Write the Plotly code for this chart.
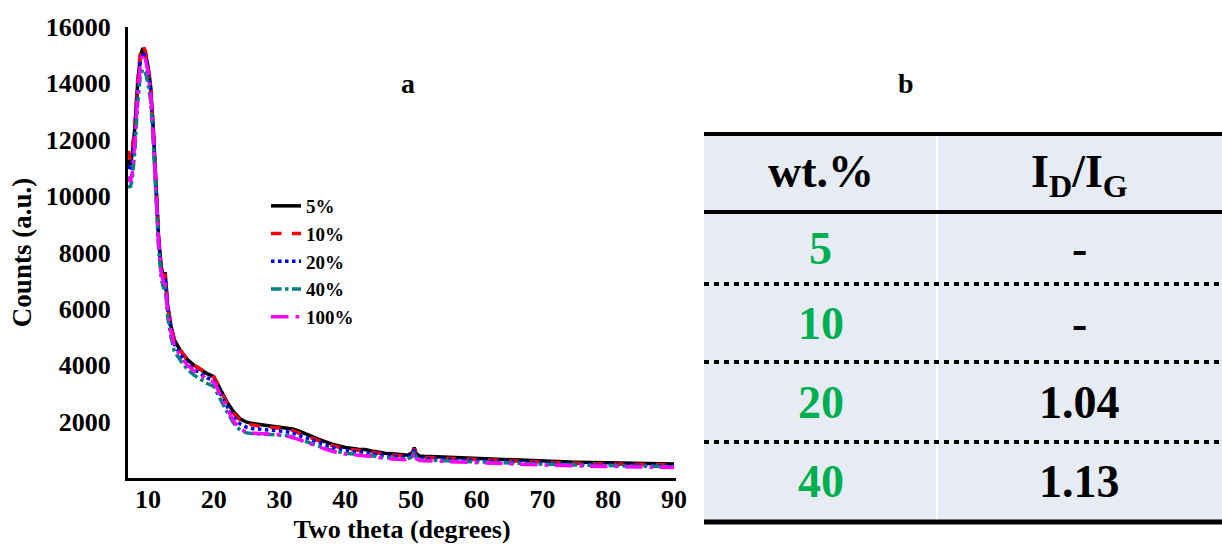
import plotly.graph_objects as go

# ---------------- data ----------------
two_theta = [7.0, 7.3, 7.6, 8.0, 8.4, 8.8, 9.2, 9.6, 10.0, 10.4,
             10.8, 11.2, 11.6, 12.0, 12.4, 12.6, 12.8, 13.0, 13.5, 14,
             15, 16, 17, 18, 19, 20, 20.5, 21, 22, 23,
             24, 25, 26, 27, 28, 29, 30, 31, 32, 33,
             34, 35, 36, 38, 40, 42, 43, 44, 46, 48,
             49.5, 50.2, 50.5, 50.8, 51.3, 52, 55, 60, 65, 70,
             75, 80, 85, 90]

counts_5 = [11300, 11100, 11500, 12400, 13900, 14900, 15250, 15100, 14600, 13900,
            12400, 10300, 8600, 7500, 7100, 7300, 6700, 6100, 5400, 4900,
            4500, 4200, 4000, 3850, 3700, 3600, 3400, 3150, 2700, 2350,
            2100, 1980, 1930, 1900, 1880, 1860, 1830, 1800, 1740, 1660,
            1560, 1460, 1370, 1200, 1080, 1020, 1010, 960, 880, 840,
            810, 900, 1080, 860, 780, 770, 740, 700, 640, 590,
            560, 540, 520, 500]

counts_10 = [11600, 11300, 11600, 12500, 14000, 15000, 15350, 15150, 14600, 13900,
             12400, 10300, 8600, 7500, 7100, 7250, 6700, 6100, 5400, 4900,
             4500, 4200, 4000, 3850, 3700, 3580, 3380, 3120, 2660, 2300,
             2050, 1920, 1870, 1840, 1820, 1800, 1770, 1740, 1680, 1600,
             1500, 1410, 1320, 1150, 1040, 980, 970, 920, 840, 800,
             770, 860, 1040, 820, 740, 730, 700, 660, 600, 550,
             520, 500, 480, 460]

counts_20 = [11100, 10900, 11200, 12200, 13700, 14700, 15100, 14950, 14450, 13750,
             12250, 10150, 8450, 7350, 6950, 7100, 6550, 5950, 5250, 4750,
             4350, 4050, 3850, 3700, 3550, 3450, 3250, 3000, 2550, 2180,
             1920, 1800, 1750, 1730, 1720, 1700, 1680, 1650, 1600, 1520,
             1430, 1340, 1250, 1090, 980, 930, 920, 870, 800, 760,
             730, 820, 1000, 780, 700, 690, 660, 620, 570, 520,
             490, 470, 450, 430]

counts_40 = [10400, 10300, 10600, 11600, 13200, 14200, 14500, 14400, 14000, 13400,
             11900, 9900, 8200, 7100, 6700, 6850, 6300, 5700, 5000, 4500,
             4150, 3850, 3650, 3500, 3350, 3250, 3050, 2800, 2350, 1950,
             1700, 1600, 1570, 1560, 1560, 1550, 1540, 1510, 1460, 1390,
             1300, 1210, 1130, 980, 880, 840, 830, 790, 720, 690,
             670, 760, 940, 720, 650, 640, 610, 580, 530, 490,
             460, 440, 420, 400]

counts_100 = [10700, 10500, 10800, 11900, 13500, 14600, 15050, 14900, 14400, 13700,
              12200, 10100, 8400, 7300, 6900, 7050, 6500, 5900, 5200, 4700,
              4300, 4000, 3800, 3650, 3500, 3400, 3200, 2930, 2450, 2030,
              1740, 1620, 1590, 1580, 1570, 1560, 1540, 1500, 1440, 1360,
              1270, 1180, 1100, 950, 850, 810, 800, 760, 690, 660,
              640, 730, 900, 690, 620, 610, 580, 550, 500, 460,
              430, 410, 390, 370]

series_names = ["5%", "10%", "20%", "40%", "100%"]
x_ticks = [10, 20, 30, 40, 50, 60, 70, 80, 90]
y_ticks = [2000, 4000, 6000, 8000, 10000, 12000, 14000, 16000]

table_header = ["wt.%", "I<sub>D</sub>/I<sub>G</sub>"]
table_wt = ["5", "10", "20", "40"]
table_ratio = ["-", "-", "1.04", "1.13"]

# ---------------- styling ----------------
FONT = "Liberation Serif"
colors = ["#000000", "#FF0000", "#0000FF", "#008080", "#FF00FF"]
dashes = ["solid", "dash", "dot", "dashdot", "longdashdot"]
all_counts = [counts_5, counts_10, counts_20, counts_40, counts_100]

W, H = 1222, 544
L, R, T, B = 128, 546, 27, 66
PW = W - L - R
PH = H - T - B


def px_x(px):
    return (px - L) / PW


def px_y(py):
    return (H - B - py) / PH


fig = go.Figure()
for name, ys, c, d in zip(series_names, all_counts, colors, dashes):
    fig.add_trace(go.Scatter(x=two_theta, y=ys, mode="lines", name=name,
                             line=dict(color=c, width=3.5, dash=d)))

fig.update_layout(
    template="none",
    width=W, height=H,
    margin=dict(l=L, r=R, t=T, b=B, autoexpand=False),
    paper_bgcolor="white", plot_bgcolor="white",
    font=dict(family=FONT, color="black"),
    showlegend=True,
    legend=dict(x=px_x(266), y=px_y(187), xanchor="left", yanchor="top",
                bgcolor="rgba(0,0,0,0)",
                font=dict(size=19, family=FONT, weight="bold"),
                itemwidth=30, tracegroupgap=0),
    xaxis=dict(range=[6.96, 90.3], tickvals=x_ticks,
               ticktext=[f"<b>{v}</b>" for v in x_ticks],
               tickfont=dict(size=26, family=FONT),
               showgrid=False, zeroline=False, showline=True, automargin=False,
               linecolor="black", linewidth=3, ticks="", ticklen=0,
               ticklabelstandoff=-4,
               title=dict(text="<b>Two theta (degrees)</b>",
                          font=dict(size=26, family=FONT), standoff=8)),
    yaxis=dict(range=[0, 16000], tickvals=y_ticks,
               ticktext=[f"<b>{v}</b>" for v in y_ticks],
               tickfont=dict(size=26, family=FONT),
               showgrid=False, zeroline=False, showline=True, automargin=False,
               linecolor="black", linewidth=3, ticks="", ticklen=0,
               ticklabelstandoff=9,
               title=dict(text="<b>Counts (a.u.)</b>",
                          font=dict(size=27, family=FONT), standoff=7)),
)

# ---------------- table (panel b) ----------------
tx0, tx1 = 704, 1222
ty_top, ty_head, ty_bot = 134, 212, 522
row_lines = [284, 362, 442]
col_div = 937

shapes = [
    dict(type="rect", xref="paper", yref="paper",
         x0=px_x(tx0), x1=px_x(tx1), y0=px_y(ty_bot), y1=px_y(ty_top),
         fillcolor="#E7EBF4", line=dict(width=0), layer="below"),
    dict(type="line", xref="paper", yref="paper",
         x0=px_x(col_div), x1=px_x(col_div), y0=px_y(ty_bot), y1=px_y(ty_top),
         line=dict(color="white", width=2)),
    dict(type="line", xref="paper", yref="paper",
         x0=px_x(tx0), x1=px_x(tx1), y0=px_y(ty_top), y1=px_y(ty_top),
         line=dict(color="black", width=4)),
    dict(type="line", xref="paper", yref="paper",
         x0=px_x(tx0), x1=px_x(tx1), y0=px_y(ty_head), y1=px_y(ty_head),
         line=dict(color="black", width=4)),
    dict(type="line", xref="paper", yref="paper",
         x0=px_x(tx0), x1=px_x(tx1), y0=px_y(ty_bot), y1=px_y(ty_bot),
         line=dict(color="black", width=5)),
]
for yl in row_lines:
    shapes.append(dict(type="line", xref="paper", yref="paper",
                       x0=px_x(tx0), x1=px_x(tx1), y0=px_y(yl), y1=px_y(yl),
                       line=dict(color="black", width=4, dash="5px,5px")))

c1 = (tx0 + col_div) / 2
c2 = (col_div + tx1) / 2
row_edges = [ty_head] + row_lines + [ty_bot]


def ann(xp, yp, text, size, color="black"):
    return dict(xref="paper", yref="paper", x=px_x(xp), y=px_y(yp),
                xanchor="center", yanchor="middle", text=text, showarrow=False,
                font=dict(size=size, family=FONT, color=color))


annotations = [
    ann(c1, (ty_top + ty_head) / 2 - 2, f"<b>{table_header[0]}</b>", 46),
    ann(c2, (ty_top + ty_head) / 2 + 2, f"<b>{table_header[1]}</b>", 46),
]
for i, (w, r) in enumerate(zip(table_wt, table_ratio)):
    yc = (row_edges[i] + row_edges[i + 1]) / 2
    annotations.append(ann(c1, yc, f"<b>{w}</b>", 46, "#00B050"))
    annotations.append(ann(c2, yc, f"<b>{r}</b>", 46))

annotations.append(ann(408, 84, "<b>a</b>", 28))
annotations.append(ann(906, 84, "<b>b</b>", 28))

fig.update_layout(shapes=shapes, annotations=annotations)
fig.write_html("out.html",
               config={"displayModeBar": False},
               post_script="document.body.style.margin='0';"
                           "document.body.style.padding='0';")
